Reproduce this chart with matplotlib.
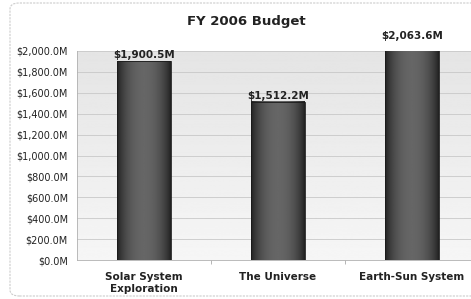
import numpy as np
import matplotlib
matplotlib.use("Agg")
import matplotlib.pyplot as plt
from matplotlib.patches import FancyBboxPatch
from matplotlib.ticker import FuncFormatter, MultipleLocator

categories = ["Solar System\nExploration", "The Universe", "Earth-Sun System"]
values = [1900.5, 1512.2, 2063.6]
value_labels = ["$1,900.5M", "$1,512.2M", "$2,063.6M"]
title = "FY 2006 Budget"

W, H = 471, 299
fig = plt.figure(figsize=(W / 100, H / 100), dpi=100)
fig.patch.set_facecolor("white")

# rounded frame
frame = FancyBboxPatch((10 / W, 3 / H), 500 / W, 293 / H,
                       boxstyle="round,pad=0,rounding_size=0.02",
                       transform=fig.transFigure, facecolor="none",
                       edgecolor="#cccccc", linewidth=0.8, linestyle=(0, (2, 1)),
                       zorder=-5)
fig.patches.append(frame)

ax = fig.add_axes([77 / W, 39 / H, 402 / W, 209 / H])
YMAX = 2000
ax.set_xlim(-0.5, 2.5)
ax.set_ylim(0, YMAX)

# background gradient of plot area (darker at top, lighter at bottom)
bg = np.linspace(0.895, 0.965, 256).reshape(-1, 1)
ax.imshow(bg, extent=(-0.5, 2.5, 0, YMAX), aspect="auto", cmap="gray",
          vmin=0, vmax=1, zorder=0, origin="upper")

ax.yaxis.set_major_locator(MultipleLocator(200))
ax.yaxis.set_major_formatter(FuncFormatter(lambda v, p: f"${v:,.1f}M"))
ax.grid(axis="y", color="#c8c8c8", linewidth=0.6, zorder=1)

bw = 0.4
x = np.arange(len(categories))
bars = ax.bar(x, values, width=bw, color="none", edgecolor="#1a1a1a",
              linewidth=0.6, zorder=3)

# cylinder-like gradient inside bars
t = np.linspace(-1, 1, 200)
shade = 0.12 + 0.28 * (1 - t ** 2) ** 0.8
grad = shade.reshape(1, -1)
for b in bars:
    x0, w, h = b.get_x(), b.get_width(), b.get_height()
    ax.imshow(grad, extent=(x0, x0 + w, 0, min(h, YMAX)), aspect="auto",
              cmap="gray", vmin=0, vmax=1, zorder=2)

ax.set_xlim(-0.5, 2.5)
ax.set_ylim(0, YMAX)

for xi, v, lab in zip(x, values, value_labels):
    ax.annotate(lab, (xi, min(v, YMAX)), xytext=(0, 1 if v <= YMAX else 7),
                textcoords="offset points", ha="center", va="bottom",
                fontsize=7.5, fontweight="bold", color="#222222",
                annotation_clip=False)

ax.set_xticks(x)
ax.set_xticklabels(categories, fontsize=7.5, fontweight="bold", color="#222222")
ax.set_xticks([0.5, 1.5], minor=True)
ax.tick_params(axis="x", which="major", length=0, pad=9)
ax.tick_params(axis="x", which="minor", length=3, color="#aaaaaa")
ax.tick_params(axis="y", length=0, labelsize=7, labelcolor="#222222", pad=6.5)

for s in ["top", "right"]:
    ax.spines[s].set_visible(False)
ax.spines["left"].set_color("#b0b0b0")
ax.spines["bottom"].set_color("#b0b0b0")
ax.spines["left"].set_linewidth(0.6)
ax.spines["bottom"].set_linewidth(0.6)

fig.text(246 / W, 1 - 22 / H, title, ha="center", va="center",
         fontsize=9.5, fontweight="bold", color="#222222")

fig.savefig("out.png", dpi=100)
